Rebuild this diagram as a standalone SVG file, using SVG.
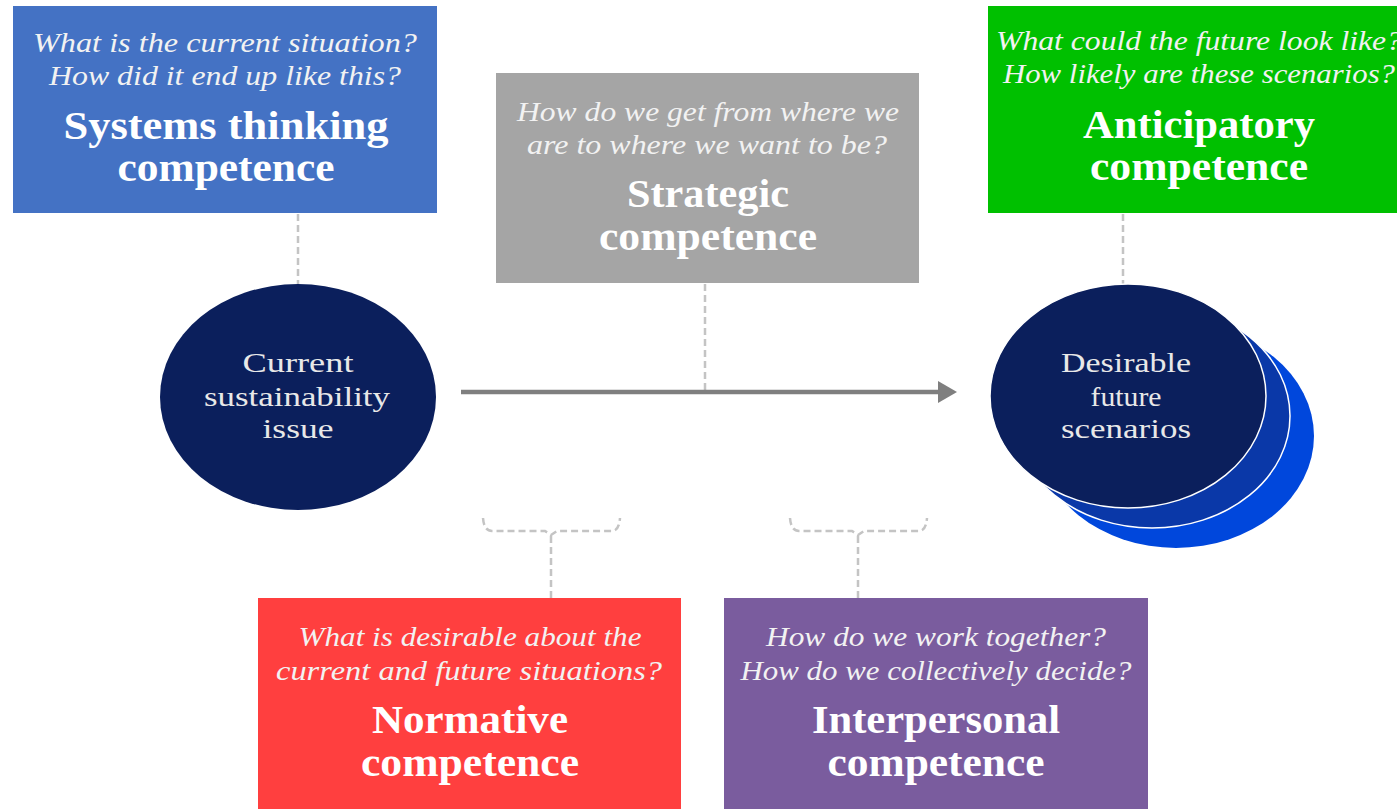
<svg xmlns="http://www.w3.org/2000/svg" width="1397" height="809" viewBox="0 0 1397 809">
<style>
.q{font-family:"Liberation Serif","Times New Roman",serif;font-style:italic;font-size:27px;fill:#F2F2F2;text-anchor:middle}
.t{font-family:"Liberation Serif","Times New Roman",serif;font-weight:bold;font-size:40px;fill:#FFFFFF;text-anchor:middle}
.e{font-family:"Liberation Serif","Times New Roman",serif;font-size:28px;fill:#E8E8E8;text-anchor:middle}
.d{fill:none;stroke:#C4C4C4;stroke-width:2.5;stroke-dasharray:7 4}
</style>
<rect width="1397" height="809" fill="#FFFFFF"/>
<g id="connectors">
<line class="d" x1="298" y1="214" x2="298" y2="284"/>
<line class="d" x1="705" y1="284" x2="705" y2="390"/>
<line class="d" x1="1123" y1="214" x2="1123" y2="284"/>
<path class="d" d="M483,518 Q484,531 492,531 L545,531 L551,535 L557,531 L612,531 Q619,531 620,518"/>
<line class="d" x1="551" y1="536" x2="551" y2="598"/>
<path class="d" d="M790,518 Q791,531 799,531 L852,531 L858,535 L864,531 L919,531 Q926,531 927,518"/>
<line class="d" x1="858" y1="536" x2="858" y2="598"/>
<line x1="461" y1="392" x2="942" y2="392" stroke="#7F7F7F" stroke-width="4.5"/>
<polygon points="938,381 957,392 938,403" fill="#7F7F7F"/>
</g>
<g id="systems">
<rect x="13" y="6" width="424" height="207" fill="#4472C4"/>
<text class="q" x="225" y="52" textLength="384" lengthAdjust="spacingAndGlyphs">What is the current situation?</text>
<text class="q" x="225" y="85" textLength="352" lengthAdjust="spacingAndGlyphs">How did it end up like this?</text>
<text class="t" x="226" y="139" textLength="325" lengthAdjust="spacingAndGlyphs">Systems thinking</text>
<text class="t" x="226" y="181" textLength="217" lengthAdjust="spacingAndGlyphs">competence</text>
</g>
<g id="strategic">
<rect x="496" y="73" width="423" height="210" fill="#A5A5A5"/>
<text class="q" x="708" y="121" textLength="382" lengthAdjust="spacingAndGlyphs">How do we get from where we</text>
<text class="q" x="707" y="154" textLength="360" lengthAdjust="spacingAndGlyphs">are to where we want to be?</text>
<text class="t" x="708" y="207" textLength="162" lengthAdjust="spacingAndGlyphs">Strategic</text>
<text class="t" x="708" y="250" textLength="218" lengthAdjust="spacingAndGlyphs">competence</text>
</g>
<g id="anticipatory">
<rect x="988" y="6" width="422" height="207" fill="#00C000"/>
<text class="q" x="1199" y="50" textLength="406" lengthAdjust="spacingAndGlyphs">What could the future look like?</text>
<text class="q" x="1199" y="83" textLength="392" lengthAdjust="spacingAndGlyphs">How likely are these scenarios?</text>
<text class="t" x="1199" y="138" textLength="232" lengthAdjust="spacingAndGlyphs">Anticipatory</text>
<text class="t" x="1199" y="180" textLength="218" lengthAdjust="spacingAndGlyphs">competence</text>
</g>
<g id="normative">
<rect x="258" y="598" width="423" height="215" fill="#FF3F3F"/>
<text class="q" x="470" y="646" textLength="343" lengthAdjust="spacingAndGlyphs">What is desirable about the</text>
<text class="q" x="469" y="680" textLength="386" lengthAdjust="spacingAndGlyphs">current and future situations?</text>
<text class="t" x="470" y="733" textLength="196" lengthAdjust="spacingAndGlyphs">Normative</text>
<text class="t" x="470" y="776" textLength="218" lengthAdjust="spacingAndGlyphs">competence</text>
</g>
<g id="interpersonal">
<rect x="724" y="598" width="424" height="215" fill="#7A5C9E"/>
<text class="q" x="936" y="646" textLength="340" lengthAdjust="spacingAndGlyphs">How do we work together?</text>
<text class="q" x="936" y="680" textLength="391" lengthAdjust="spacingAndGlyphs">How do we collectively decide?</text>
<text class="t" x="936" y="733" textLength="248" lengthAdjust="spacingAndGlyphs">Interpersonal</text>
<text class="t" x="936" y="776" textLength="217" lengthAdjust="spacingAndGlyphs">competence</text>
</g>
<g id="current-issue">
<ellipse cx="298" cy="397" rx="138" ry="113" fill="#0B1F5C"/>
<text class="e" x="298" y="372" textLength="111" lengthAdjust="spacingAndGlyphs">Current</text>
<text class="e" x="297" y="406" textLength="186" lengthAdjust="spacingAndGlyphs">sustainability</text>
<text class="e" x="298" y="438" textLength="71" lengthAdjust="spacingAndGlyphs">issue</text>
</g>
<g id="future-scenarios">
<ellipse cx="1176" cy="436" rx="138" ry="112" fill="#0047DC"/>
<ellipse cx="1152" cy="416" rx="138" ry="112" fill="#0A38A8" stroke="#FFFFFF" stroke-width="1.5"/>
<ellipse cx="1128" cy="396" rx="138" ry="112" fill="#0B1F5C" stroke="#FFFFFF" stroke-width="1.5"/>
<text class="e" x="1126" y="372" textLength="130" lengthAdjust="spacingAndGlyphs">Desirable</text>
<text class="e" x="1126" y="406" textLength="71" lengthAdjust="spacingAndGlyphs">future</text>
<text class="e" x="1126" y="438" textLength="130" lengthAdjust="spacingAndGlyphs">scenarios</text>
</g>
</svg>
